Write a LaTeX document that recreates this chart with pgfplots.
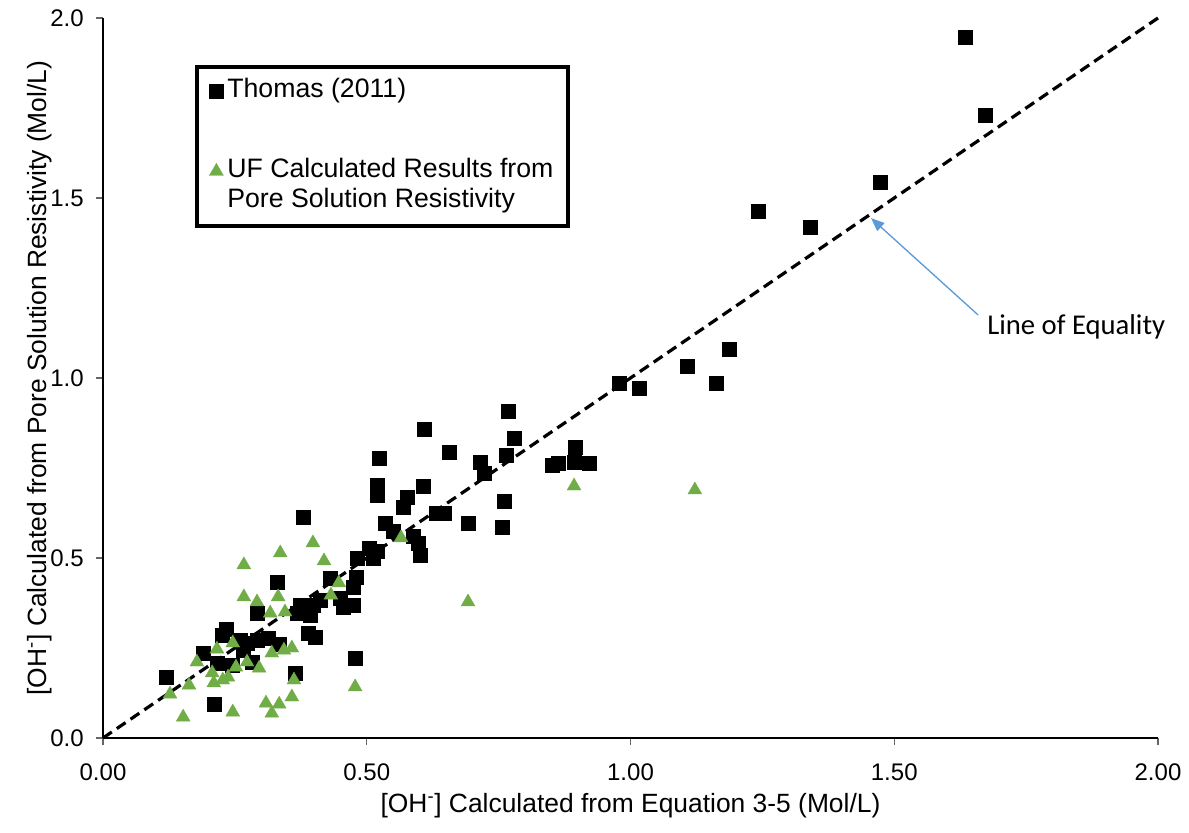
\documentclass[border=0pt]{standalone}
\usepackage{fontspec}
\setmainfont{Liberation Sans}
\newfontfamily\calibri{Carlito}
\usepackage{pgfplots}
\pgfplotsset{compat=1.18}
\usetikzlibrary{arrows.meta}
\definecolor{ufgreen}{HTML}{70AD47}
\definecolor{arrowblue}{HTML}{5B9BD5}

\pgfplotstableread{
x y
1.634 1.947
1.672 1.731
1.473 1.544
1.242 1.464
1.340 1.419
1.187 1.081
1.107 1.033
1.162 0.986
0.978 0.986
1.016 0.972
0.895 0.808
0.893 0.767
0.921 0.764
0.851 0.758
0.863 0.764
0.768 0.908
0.779 0.833
0.764 0.786
0.715 0.767
0.722 0.736
0.760 0.658
0.756 0.586
0.692 0.597
0.609 0.858
0.656 0.794
0.607 0.700
0.523 0.778
0.519 0.703
0.519 0.675
0.576 0.669
0.569 0.642
0.631 0.625
0.646 0.625
0.535 0.597
0.550 0.575
0.588 0.561
0.597 0.542
0.601 0.508
0.504 0.528
0.519 0.519
0.512 0.500
0.482 0.500
0.480 0.447
0.474 0.419
0.430 0.444
0.379 0.614
0.449 0.389
0.455 0.364
0.474 0.369
0.411 0.383
0.398 0.369
0.373 0.369
0.368 0.347
0.392 0.342
0.389 0.292
0.402 0.281
0.478 0.222
0.364 0.181
0.334 0.261
0.330 0.433
0.119 0.169
0.210 0.094
0.292 0.347
0.233 0.303
0.226 0.286
0.260 0.272
0.273 0.264
0.265 0.244
0.292 0.272
0.313 0.278
0.190 0.236
0.216 0.208
0.245 0.203
0.282 0.211
}\thomas

\pgfplotstableread{
x y
0.336 0.514
0.267 0.481
0.267 0.392
0.292 0.378
0.332 0.392
0.317 0.347
0.345 0.350
0.216 0.247
0.246 0.264
0.178 0.211
0.207 0.181
0.210 0.153
0.227 0.161
0.237 0.169
0.252 0.197
0.273 0.211
0.296 0.194
0.320 0.236
0.343 0.244
0.358 0.250
0.362 0.161
0.163 0.147
0.127 0.122
0.152 0.058
0.246 0.072
0.309 0.097
0.334 0.094
0.320 0.069
0.358 0.114
0.398 0.542
0.419 0.492
0.447 0.431
0.432 0.397
0.565 0.556
0.692 0.378
0.478 0.142
0.893 0.700
1.122 0.689
}\uf

\begin{document}
\begin{tikzpicture}
\path[use as bounding box] (-77.25pt,-70.5pt) rectangle (814.5pt,553.5pt);
\begin{axis}[
  at={(0,0)}, anchor=south west,
  width=791.25pt, height=540pt, scale only axis,
  xmin=0, xmax=2, ymin=0, ymax=2,
  axis x line*=bottom, axis y line*=left,
  axis line style={-, line width=1pt, black},
  xtick={0,0.5,1,1.5,2}, ytick={0,0.5,1,1.5,2},
  tick align=outside, major tick length=5pt,
  tick style={line width=0.8pt, black!60},
  /pgf/number format/assume math mode=true,
  tick label style={font=\fontsize{18}{21}\selectfont},
  xticklabel style={/pgf/number format/fixed, /pgf/number format/fixed zerofill, /pgf/number format/precision=2, yshift=-11pt},
  yticklabel style={/pgf/number format/fixed, /pgf/number format/fixed zerofill, /pgf/number format/precision=1, xshift=-6pt},
  xlabel={[OH\textsuperscript{-}] Calculated from Equation 3-5 (Mol/L)},
  ylabel={[OH\textsuperscript{-}] Calculated from Pore Solution Resistivity (Mol/L)},
  xlabel style={at={(axis description cs:0.5,-0.0944)}, anchor=center, font=\fontsize{19.8}{23}\selectfont},
  ylabel style={at={(axis description cs:-0.0597,0.5)}, anchor=center, font=\fontsize{19.8}{23}\selectfont},
  legend cell align=left,
  legend style={at={(axis description cs:0.0872,0.9347)}, anchor=north west,
    draw=black, line width=3pt, inner xsep=6pt, inner ysep=7pt, row sep=0pt,
    font=\fontsize{20}{22.5}\selectfont,
    nodes={inner sep=0pt, text height=15.75pt, text depth=6.75pt},
    /tikz/every odd column/.append style={column sep=3pt}},
  clip=false,
]
\addplot[forget plot, black, line width=2.4pt, dash pattern=on 8pt off 4.5pt] coordinates {(0,0) (2,2)};
\addplot[only marks, mark=square*, mark size=5.25pt, mark options={fill=black, draw=black, line width=0.2pt}] table[x=x, y=y] {\thomas};
\addlegendentry{Thomas (2011)}
\addlegendimage{empty legend}
\addlegendentry[text height=37.5pt, text depth=0pt]{}
\addplot[only marks, mark=triangle*, mark size=6.06pt, mark options={fill=ufgreen, draw=ufgreen, line width=0.2pt}] table[x=x, y=y] {\uf};
\addlegendentry{UF Calculated Results from\hspace*{5pt}}
\addlegendimage{empty legend}
\addlegendentry{Pore Solution Resistivity}
\draw[arrowblue, line width=1pt, -{Triangle[length=10pt, width=8pt]}] (axis cs:1.659,1.175) -- (axis cs:1.456,1.444);
\node[font=\calibri\fontsize{21.5}{25}\selectfont, anchor=center] at (axis cs:1.845,1.142) {Line of Equality};
\end{axis}
\end{tikzpicture}
\end{document}
